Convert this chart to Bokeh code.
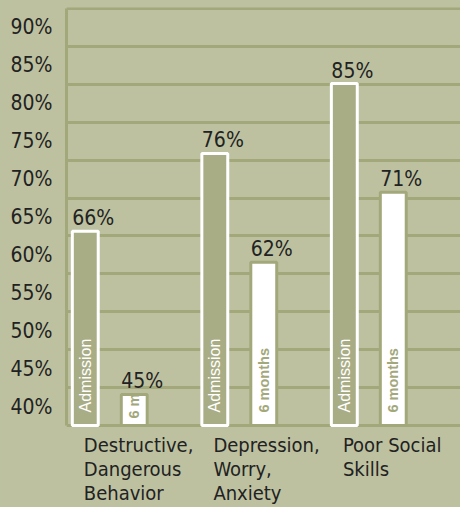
from bokeh.plotting import figure
from bokeh.models import (Range1d, LinearAxis, FixedTicker, ColumnDataSource,
                          LabelSet, Grid, GlobalInlineStyleSheet)
from bokeh.core.properties import value
from bokeh.embed import file_html
from bokeh.resources import INLINE

# ---------------- data ----------------
categories = [
    ["Destructive,", "Dangerous", "Behavior"],
    ["Depression,", "Worry,", "Anxiety"],
    ["Poor Social", "Skills"],
]
series_names = ["Admission", "6 months"]
admission = [66, 76, 85]
six_months = [45, 62, 71]
six_month_bar_text = ["6 m", "6 months", "6 months"]
tick_values = [40, 45, 50, 55, 60, 65, 70, 75, 80, 85, 90]
tick_labels = ["40%", "45%", "50%", "55%", "60%", "65%", "70%", "75%", "80%", "85%", "90%"]

# ---------------- style / layout ----------------
BG = "#bdc1a0"
GRID = "#a3a87b"
BAR = "#a9ad85"
TEXT = "#222222"
FONT = "DejaVu Sans Condensed"
BAR_FONT = "Liberation Sans"

W, H = 460, 507
TOP_BORDER = 7            # frame top (px)
PX_TOP, PX_BASE = 8, 425  # pixel rows of the top line and the baseline

half = (tick_values[1] - tick_values[0]) / 2
label_lo, label_hi = tick_values[0] - half, tick_values[-1] + half   # printed-label scale
bar_lo, bar_hi = 41.0, 94.65                                         # scale bars are drawn on


def extend(lo, hi):
    """range whose lo/hi sit at PX_BASE/PX_TOP inside a frame from TOP_BORDER to H"""
    upp = (hi - lo) / (PX_BASE - PX_TOP)
    return lo - (H - PX_BASE) * upp, hi + (PX_TOP - TOP_BORDER) * upp, upp


y0, y1, label_upp = extend(label_lo, label_hi)
b0, b1, bar_upp = extend(bar_lo, bar_hi)

dodge = 0.189
bar_w = 0.2
cat_label_dx = -0.2

p = figure(width=W, height=H, output_backend="svg", toolbar_location=None,
           x_range=Range1d(-0.334, 2.708), y_range=Range1d(y0, y1),
           x_axis_type=None, y_axis_type=None,
           min_border_left=66, min_border_right=0, min_border_top=TOP_BORDER,
           min_border_bottom=0,
           background_fill_color=BG, border_fill_color=BG, outline_line_color=None)
p.extra_y_ranges = {"bars": Range1d(b0, b1)}
p.stylesheets = [GlobalInlineStyleSheet(css="html, body { background-color: %s; }" % BG)]

grid = Grid(dimension=1,
            ticker=FixedTicker(ticks=[label_lo] + [t + half for t in tick_values]),
            grid_line_color=GRID, grid_line_width=3)
p.add_layout(grid)

yaxis = LinearAxis(ticker=FixedTicker(ticks=tick_values), bounds=(label_lo, label_hi),
                   major_label_overrides={t: l for t, l in zip(tick_values, tick_labels)},
                   axis_line_color=GRID, axis_line_width=3,
                   major_tick_line_color=None, minor_tick_line_color=None,
                   major_label_standoff=8,
                   major_label_text_font=FONT, major_label_text_font_size="21px",
                   major_label_text_color=TEXT)
p.add_layout(yaxis, "left")

idx = list(range(len(categories)))
adm_x = [i - dodge for i in idx]
six_x = [i + dodge for i in idx]


def text_anchor(v):
    h_px = (v - bar_lo) / bar_upp
    return bar_lo + (13 if h_px > 60 else 7) * bar_upp


src_adm = ColumnDataSource(dict(
    x=adm_x, xl=[x - bar_w / 2 for x in adm_x], top=admission,
    ty=[text_anchor(v) for v in admission],
    vtext=["%d%%" % v for v in admission], text=[series_names[0]] * len(idx)))
src_six = ColumnDataSource(dict(
    x=six_x, xl=[x - bar_w / 2 for x in six_x], top=six_months,
    ty=[text_anchor(v) for v in six_months],
    vtext=["%d%%" % v for v in six_months], text=six_month_bar_text))

p.vbar(x="x", top="top", bottom=bar_lo, width=bar_w, source=src_adm,
       fill_color=BAR, line_color="white", line_width=3, y_range_name="bars")
p.vbar(x="x", top="top", bottom=bar_lo, width=bar_w, source=src_six,
       fill_color="white", line_color=GRID, line_width=3, y_range_name="bars")

for src in (src_adm, src_six):
    p.add_layout(LabelSet(x="xl", y="top", text="vtext", source=src, y_range_name="bars",
                          y_offset=6, text_align="left", text_baseline="alphabetic",
                          text_font=value(FONT), text_font_size=value("21px"),
                          text_color=TEXT))

p.add_layout(LabelSet(x="x", y="ty", text="text", source=src_adm, y_range_name="bars",
                      angle=90, angle_units="deg",
                      text_align="left", text_baseline="middle",
                      text_font=value(BAR_FONT), text_font_size=value("16px"),
                      text_color="white"))
p.add_layout(LabelSet(x="x", y="ty", text="text", source=src_six, y_range_name="bars",
                      angle=90, angle_units="deg",
                      text_align="left", text_baseline="middle",
                      text_font=value(BAR_FONT), text_font_size=value("14.5px"),
                      text_font_style="bold", text_color=GRID))

# category labels, left aligned, one row per line
LINE_PX = 24
FIRST_PX = 26
lx, lt, ly = [], [], []
for i, lines in zip(idx, categories):
    for k, line in enumerate(lines):
        lx.append(i + cat_label_dx)
        lt.append(line)
        ly.append(label_lo - (FIRST_PX + LINE_PX * k) * label_upp)
src_cat = ColumnDataSource(dict(x=lx, y=ly, text=lt))
p.add_layout(LabelSet(x="x", y="y", text="text", source=src_cat,
                      text_align="left", text_baseline="alphabetic",
                      text_font=value(FONT), text_font_size=value("20px"),
                      text_color=TEXT))

open("out.html", "w").write(file_html(p, INLINE))
